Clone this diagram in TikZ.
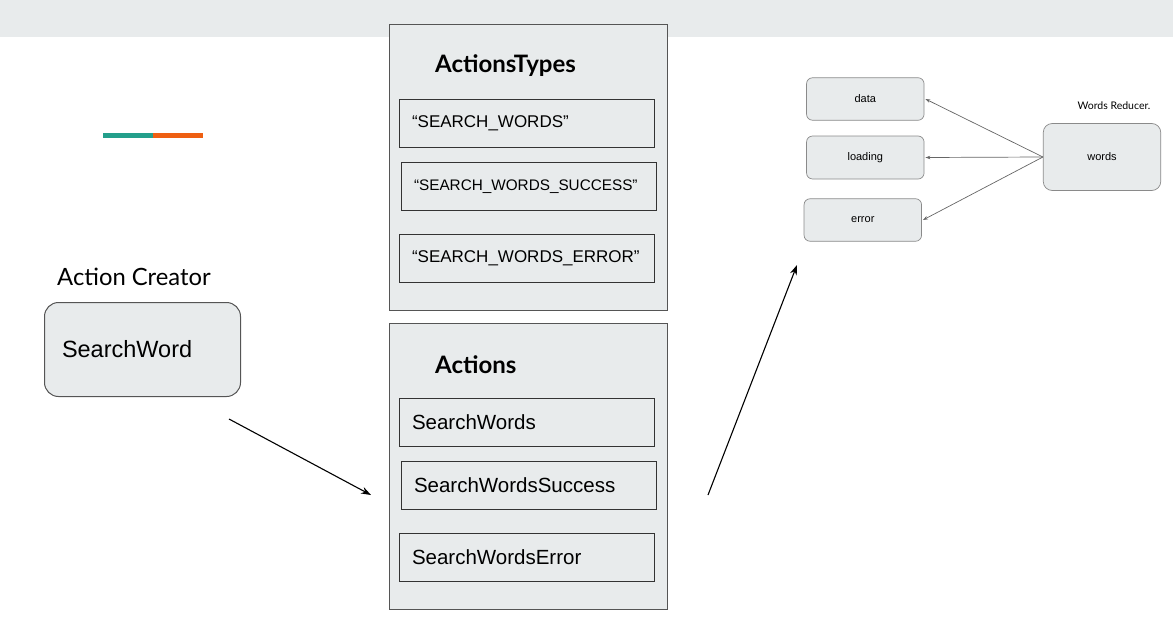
\documentclass[tikz,border=0pt]{standalone}
\usepackage{fontspec}
\setmainfont{Liberation Sans}
\newfontfamily\lato{Lato}
\usetikzlibrary{arrows.meta}
\definecolor{paneBg}{HTML}{E8EBEC}
\definecolor{teal1}{HTML}{239F8B}
\definecolor{orange1}{HTML}{EE5F12}
\definecolor{edgeGray}{HTML}{555555}
\definecolor{smallGray}{HTML}{8A8A8A}
\begin{document}
\begin{tikzpicture}[x=1pt,y=-1pt,
  outerbox/.style={draw=edgeGray,fill=paneBg,line width=1pt,minimum width=278pt,minimum height=286pt,anchor=north west,inner sep=0pt},
  itembox/.style={draw=black!80,fill=paneBg,line width=1pt,minimum height=48pt,inner xsep=12.5pt,inner ysep=0pt,text width=230pt,align=left,anchor=north west},
  typetext/.style={font=\fontsize{17}{20}\selectfont},
  acttext/.style={font=\fontsize{20.5}{24}\selectfont},
  titletext/.style={font=\lato\bfseries\fontsize{24}{28}\selectfont,anchor=west,inner sep=0pt},
  smallbox/.style={draw=smallGray,fill=paneBg,rounded corners=6pt,line width=0.7pt,minimum width=117.5pt,minimum height=42.5pt,inner sep=0pt,font=\fontsize{11}{13}\selectfont},
  bigarrow/.style={draw=black,line width=1.1pt,-{Stealth[length=10pt,width=7pt]}},
  smallarrow/.style={draw=black!60,line width=0.7pt,-{Stealth[length=5pt,width=3.5pt]}}]
\useasboundingbox (0,0) rectangle (1173,637);
\fill[paneBg] (0,0) rectangle (1173,37);
% logo bar
\fill[teal1] (103,133) rectangle (153,138);
\fill[orange1] (153,133) rectangle (203,138);
% action creator
\node[font=\lato\fontsize{23.8}{28}\selectfont,anchor=west,inner sep=0pt] (actcreator) at (57,276.5) {Action Creator};
\node[draw=edgeGray,fill=paneBg,line width=1pt,rounded corners=14pt,minimum width=196pt,minimum height=94pt,inner xsep=17.5pt,text width=161pt,align=left,anchor=north west,font=\fontsize{23.5}{28}\selectfont] (searchword) at (44,302) {SearchWord};
% ActionsTypes
\node[outerbox] (types) at (389,24) {};
\node[titletext] (typestitle) at (435,66) {ActionsTypes};
\node[itembox,typetext] (t1) at (399,99) {“SEARCH\_WORDS”};
\node[itembox,font=\fontsize{15.3}{18}\selectfont] (t2) at (401,162) {“SEARCH\_WORDS\_SUCCESS”};
\node[itembox,typetext] (t3) at (399,234) {“SEARCH\_WORDS\_ERROR”};
% Actions
\node[outerbox] (actions) at (389,323) {};
\node[titletext] (actionstitle) at (435,365) {Actions};
\node[itembox,acttext] (a1) at (399,398) {SearchWords};
\node[itembox,acttext] (a2) at (401,461) {SearchWordsSuccess};
\node[itembox,acttext] (a3) at (399,533) {SearchWordsError};
% arrows
\coordinate (c1s) at (229,419);
\coordinate (c1e) at (371,495);
\coordinate (c2s) at (708,495);
\coordinate (c2e) at (797,265);
\draw[bigarrow] (c1s) -- (c1e);
\draw[bigarrow] (c2s) -- (c2e);
% reducer
\node[smallbox] (data) at (865.3,99) {data};
\node[smallbox,minimum height=43pt] (loading) at (865.3,157.5) {loading};
\node[smallbox] (error) at (862.8,220) {error};
\node[smallbox,minimum height=67pt,rounded corners=9pt] (words) at (1102,157) {words};
\node[font=\lato\fontsize{10.5}{12}\selectfont,inner sep=0pt] (reducerlbl) at (1114,105.5) {Words Reducer.};
\draw[smallarrow] (words.west) -- ([xshift=1pt]data.east);
\draw[smallarrow] (words.west) -- ([xshift=1pt]loading.east);
\draw[smallarrow] (words.west) -- ([xshift=1pt]error.east);
\end{tikzpicture}
\end{document}
